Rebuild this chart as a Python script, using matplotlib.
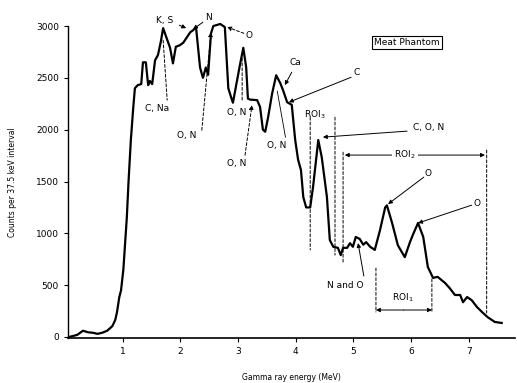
import matplotlib
matplotlib.use('Agg')
import matplotlib.pyplot as plt

# spectrum
energy = [0.07, 0.21, 0.31, 0.40, 0.49, 0.56, 0.64, 0.73, 0.82, 0.87, 0.90, 0.94,
          0.97, 1.01, 1.04, 1.07, 1.10, 1.14, 1.18, 1.21, 1.26, 1.32, 1.35, 1.40,
          1.44, 1.47, 1.51, 1.56, 1.61, 1.66, 1.70, 1.75, 1.82, 1.87, 1.92, 1.99,
          2.05, 2.11, 2.17, 2.22, 2.27, 2.34, 2.39, 2.44, 2.48, 2.53, 2.57, 2.69,
          2.77, 2.83, 2.88, 2.91, 2.96, 3.03, 3.09, 3.14, 3.17, 3.21, 3.33, 3.38,
          3.43, 3.47, 3.52, 3.59, 3.66, 3.73, 3.78, 3.85, 3.93, 3.99, 4.04, 4.09,
          4.13, 4.18, 4.25, 4.30, 4.39, 4.45, 4.54, 4.59, 4.65, 4.73, 4.78, 4.82,
          4.89, 4.94, 4.99, 5.04, 5.11, 5.17, 5.22, 5.29, 5.37, 5.46, 5.55, 5.58,
          5.67, 5.77, 5.89, 5.98, 6.03, 6.12, 6.21, 6.29, 6.38, 6.46, 6.59, 6.67,
          6.76, 6.85, 6.90, 6.97, 7.05, 7.14, 7.23, 7.33, 7.45, 7.57]
counts = [0, 20, 60, 45, 40, 30, 40, 60, 105, 165, 240, 385,
          450, 650, 900, 1150, 1500, 1900, 2200, 2400, 2430, 2440, 2650, 2650,
          2430, 2470, 2440, 2670, 2720, 2850, 2980, 2900, 2790, 2640, 2800, 2815,
          2840, 2890, 2940, 2960, 2990, 2600, 2500, 2600, 2530, 2930, 3000, 3020,
          2990, 2400, 2310, 2260, 2410, 2620, 2790, 2600, 2300, 2290, 2285, 2220,
          2000, 1980, 2120, 2350, 2525, 2450, 2380, 2265, 2240, 1900, 1710, 1610,
          1350, 1250, 1250, 1450, 1900, 1735, 1350, 935, 870, 860, 790, 860,
          860, 905, 870, 965, 945, 890, 915, 870, 840, 1030, 1250, 1270,
          1100, 885, 770, 915, 985, 1100, 965, 675, 570, 580, 520, 470,
          405, 405, 335, 385, 355, 290, 240, 190, 145, 135]

xticks = [1, 2, 3, 4, 5, 6, 7]
yticks = [0, 500, 1000, 1500, 2000, 2500, 3000]

fs = 6.5
fig = plt.figure(figsize=(5.17, 3.83), dpi=100)
ax = fig.add_axes([0.1315, 0.1175, 0.8645, 0.8145])
ax.plot(energy, counts, color='black', lw=1.6, clip_on=False)
ax.set_xlim(0.05, 7.8)
ax.set_ylim(-10, 3000)
ax.spines['top'].set_visible(False)
ax.spines['right'].set_visible(False)
ax.spines['left'].set_linewidth(1.0)
ax.spines['bottom'].set_linewidth(1.2)
ax.set_xticks(xticks)
ax.set_yticks(yticks)
ax.tick_params(labelsize=fs, length=3, width=0.8, direction='out')
ax.set_xlabel('Gamma ray energy (MeV)', fontsize=5.5, labelpad=12)
ax.set_ylabel('Counts per 37.5 keV interval', fontsize=5.5, labelpad=14)

arr = dict(arrowstyle='-|>', lw=0.7, color='black', mutation_scale=6,
           shrinkA=0, shrinkB=0)
dash = dict(arrowstyle='-', lw=0.7, color='black', ls=(0, (3, 2)),
            shrinkA=0, shrinkB=0)
dash_arr = dict(arrowstyle='-|>', lw=0.7, color='black', ls=(0, (3, 2)),
                mutation_scale=6, shrinkA=0, shrinkB=0)

def label(x, y, s, **kw):
    ax.text(x, y, s, fontsize=fs, ha='center', va='center', **kw)

def line(x0, y0, x1, y1, props):
    ax.annotate('', xy=(x1, y1), xytext=(x0, y0), arrowprops=props,
                annotation_clip=False)

# peak labels
label(1.73, 3056, 'K, S')
line(1.98, 3008, 2.10, 2980, arr)
label(2.48, 3085, 'N')
line(2.39, 3037, 2.22, 2970, arr)
label(3.19, 2911, 'O')
line(3.10, 2930, 2.81, 2990, dash_arr)
label(1.59, 2208, 'C, Na')
line(1.70, 2863, 1.77, 2285, dash)
label(2.11, 1948, 'O, N')
line(2.37, 1995, 2.53, 2940, dash_arr)
label(2.98, 2169, 'O, N')
line(3.07, 2690, 3.07, 2285, dash)
label(2.98, 1677, 'O, N')
line(3.12, 1754, 3.24, 2237, dash_arr)
label(4.00, 2650, 'Ca')
line(3.93, 2555, 3.81, 2430, arr)
label(5.06, 2555, 'C')
line(4.96, 2506, 3.88, 2265, arr)
label(3.67, 1850, 'O, N')
line(3.83, 1900, 3.67, 2400, dict(arrowstyle='-', lw=0.6, color='black'))
ax.text(6.03, 2024, 'C, O, N', fontsize=fs, ha='left', va='center')
line(5.93, 1986, 4.47, 1928, arr)
label(6.29, 1581, 'O')
line(6.22, 1542, 5.60, 1282, arr)
label(7.14, 1292, 'O')
line(7.05, 1272, 6.12, 1099, arr)
label(4.85, 501, 'N and O')
line(5.18, 588, 5.08, 906, arr)

# regions of interest
label(4.33, 2140, 'ROI$_3$')
line(4.25, 2120, 4.25, 840, dash)
line(4.68, 2120, 4.68, 790, dash)
line(4.82, 1783, 4.82, 723, dash)
line(7.31, 1803, 7.31, 231, dash)
line(5.89, 1755, 4.85, 1755, arr)
line(5.89, 1755, 7.28, 1755, arr)
label(5.89, 1755, 'ROI$_2$', bbox=dict(fc='white', ec='none', pad=1.5))
line(5.39, 665, 5.39, 241, dash)
line(6.36, 559, 6.36, 241, dash)
line(5.87, 260, 5.39, 260, arr)
line(5.87, 260, 6.36, 260, arr)
label(5.86, 376, 'ROI$_1$')

label(5.93, 2843, 'Meat Phantom',
      bbox=dict(boxstyle='square,pad=0.2', fc='white', ec='black', lw=0.8))

fig.savefig('out.png', dpi=100)
